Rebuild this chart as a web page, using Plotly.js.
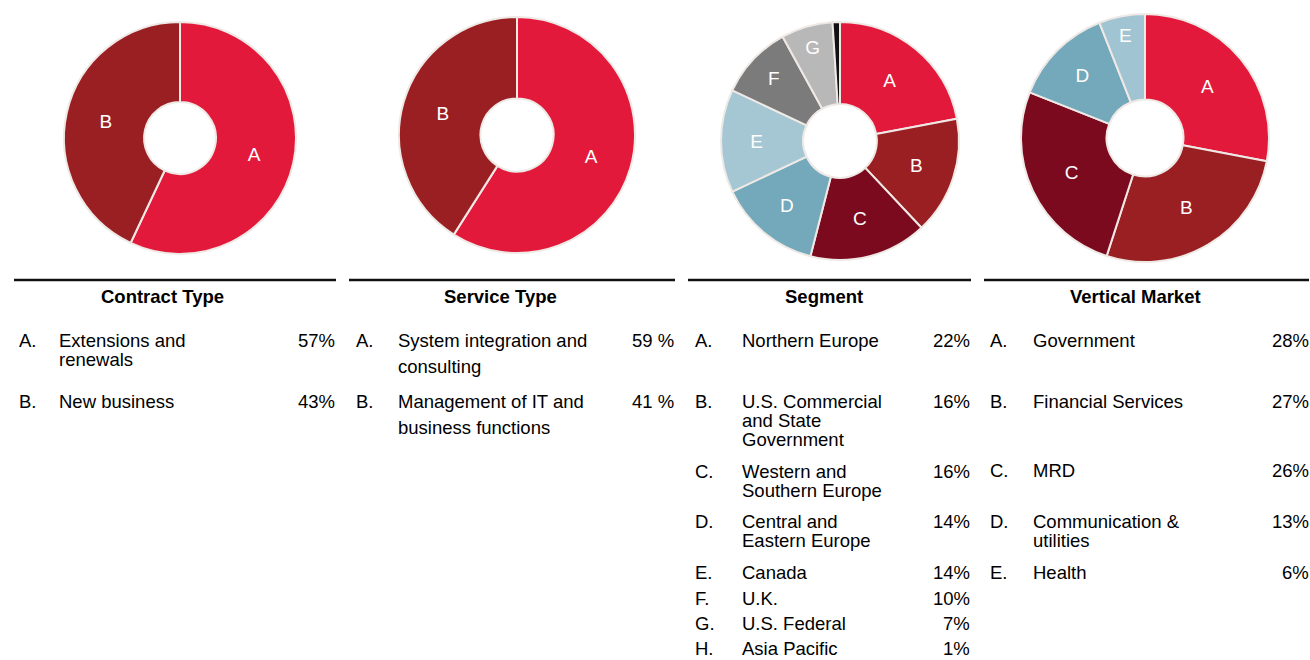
<!DOCTYPE html>
<html>
<head>
<meta charset="utf-8">
<script src="https://cdn.plot.ly/plotly-3.0.1.min.js"></script>
<style>html,body{margin:0;padding:0;background:#fff;}#chart{width:1310px;height:660px;}</style>
</head>
<body>
<div id="chart"></div>
<script>
// ---------- DATA ----------
const contractTitle = "Contract Type";
const contractLetters = ["A", "B"];
const contractLabels = ["Extensions and\nrenewals", "New business"];
const contractValues = [57, 43];

const serviceTitle = "Service Type";
const serviceLetters = ["A", "B"];
const serviceLabels = ["System integration and\nconsulting", "Management of IT and\nbusiness functions"];
const serviceValues = [59, 41];

const segmentTitle = "Segment";
const segmentLetters = ["A", "B", "C", "D", "E", "F", "G", "H"];
const segmentLabels = ["Northern Europe", "U.S. Commercial\nand State\nGovernment", "Western and\nSouthern Europe",
  "Central and\nEastern Europe", "Canada", "U.K.", "U.S. Federal", "Asia Pacific"];
const segmentValues = [22, 16, 16, 14, 14, 10, 7, 1];

const verticalTitle = "Vertical Market";
const verticalLetters = ["A", "B", "C", "D", "E"];
const verticalLabels = ["Government", "Financial Services", "MRD", "Communication &\nutilities", "Health"];
const verticalValues = [28, 27, 26, 13, 6];

// ---------- STYLE / LAYOUT CONFIG ----------
const W = 1310, H = 660;
const FONT = "Liberation Sans, Arial, sans-serif";
const FS = 18.5;
const colorsFull = ["#E2193A", "#9A1F23", "#7B0A1F", "#74A8BB", "#A4C7D3", "#7B7B7B", "#B8B8B8", "#111111"];

const panels = [
  {title: contractTitle, letters: contractLetters, labels: contractLabels, values: contractValues, pctSep: "",
   pie: {cx: 180, cy: 138, r: 116}, colors: colorsFull, showLetter: v => true,
   line: [14, 336], titleX: 162, letterX: 20, labelX: 60, pctX: 334, rows: [340, 401], lh: 19},
  {title: serviceTitle, letters: serviceLetters, labels: serviceLabels, values: serviceValues, pctSep: " ",
   pie: {cx: 517, cy: 135, r: 118}, colors: colorsFull, showLetter: v => true,
   line: [349, 675], titleX: 500, letterX: 357, labelX: 399, pctX: 673, rows: [340, 401], lh: 26},
  {title: segmentTitle, letters: segmentLetters, labels: segmentLabels, values: segmentValues, pctSep: "",
   pie: {cx: 840, cy: 141, r: 119}, colors: colorsFull, showLetter: v => v >= 5,
   line: [688, 971], titleX: 824, letterX: 696, labelX: 743, pctX: 969,
   rows: [340, 401, 471, 521, 572, 598, 623, 648], lh: 19},
  {title: verticalTitle, letters: verticalLetters, labels: verticalLabels, values: verticalValues, pctSep: "",
   pie: {cx: 1145, cy: 138, r: 124}, colors: ["#E2193A", "#9A1F23", "#7B0A1F", "#74A8BB", "#A0C4D1"], showLetter: v => true,
   line: [984, 1309], titleX: 1135, letterX: 991, labelX: 1034, pctX: 1308, rows: [340, 401, 470, 521, 572], lh: 19}
];

const px = x => x / W;
const py = y => 1 - y / H;

const traces = [];
const annotations = [];
const shapes = [];

function txt(x, y, s, anchor, bold) {
  annotations.push({xref: "paper", yref: "paper", x: px(x), y: py(y),
    xanchor: anchor, yanchor: "middle", showarrow: false, borderpad: 0, borderwidth: 0,
    text: bold ? "<b>" + s + "</b>" : s, font: {family: FONT, size: FS, color: "#000"}});
}

panels.forEach(p => {
  const {cx, cy, r} = p.pie;
  traces.push({
    type: "pie",
    values: p.values,
    labels: p.letters,
    text: p.letters.map((l, i) => p.showLetter(p.values[i]) ? l : ""),
    textinfo: "text",
    textposition: "inside",
    insidetextorientation: "horizontal",
    insidetextfont: {family: FONT, size: 19, color: "#ffffff"},
    sort: false,
    direction: "clockwise",
    rotation: 0,
    hole: 0.31,
    marker: {colors: p.colors, line: {color: "#EFE9E6", width: 2}},
    hoverinfo: "none",
    showlegend: false,
    domain: {x: [px(cx - r), px(cx + r)], y: [py(cy + r), py(cy - r)]}
  });

  shapes.push({type: "line", xref: "paper", yref: "paper",
    x0: px(p.line[0]), x1: px(p.line[1]), y0: py(280), y1: py(280),
    line: {color: "#111111", width: 2.5}});

  txt(p.titleX, 296, p.title, "center", true);

  p.letters.forEach((l, i) => {
    const y0 = p.rows[i];
    txt(p.letterX - 1, y0, l + ".", "left");
    p.labels[i].split("\n").forEach((line, j) => {
      txt(p.labelX - 1, y0 + j * p.lh, line, "left");
    });
    txt(p.pctX + 1, y0, p.values[i] + p.pctSep + "%", "right");
  });
});

const layout = {
  width: W, height: H,
  margin: {l: 0, r: 0, t: 0, b: 0},
  paper_bgcolor: "#ffffff",
  plot_bgcolor: "#ffffff",
  showlegend: false,
  annotations: annotations,
  shapes: shapes,
  font: {family: FONT}
};

Plotly.newPlot("chart", traces, layout, {displayModeBar: false, staticPlot: true});
</script>
</body>
</html>
